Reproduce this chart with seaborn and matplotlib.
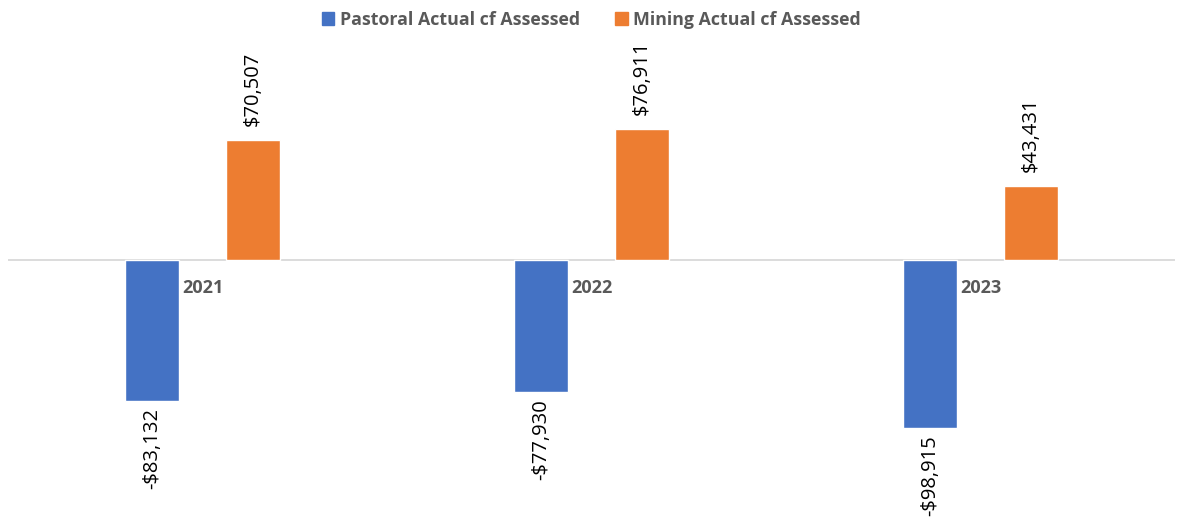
import pandas as pd
import numpy as np
import matplotlib.pyplot as plt
import seaborn as sns

# Chart data
years = ['2021', '2022', '2023']
pastoral = [-83132, -77930, -98915]
mining = [70507, 76911, 43431]
series_names = ['Pastoral Actual cf Assessed', 'Mining Actual cf Assessed']
colors = ['#4472C4', '#ED7D31']

df = pd.DataFrame({
    'year': years * 2,
    'value': pastoral + mining,
    'series': [series_names[0]] * 3 + [series_names[1]] * 3,
})

sns.set_style('white')
plt.rcParams['font.family'] = ['Open Sans', 'DejaVu Sans']

fig = plt.figure(figsize=(11.83, 5.24), dpi=100)
ax = fig.add_axes([8 / 1183, 0, 1167 / 1183, 1])

sns.barplot(data=df, x='year', y='value', hue='series', palette=colors,
            width=0.52, gap=0.46, ax=ax, legend=False, saturation=1)

ax.set_ylim(-155294, 152941)
ax.set_xlim(-0.5, 2.5)
ax.axhline(0, color='#D9D9D9', lw=1.3, zorder=0)
for s in ax.spines.values():
    s.set_visible(False)
ax.set_xticks([])
ax.set_yticks([])
ax.set_xlabel('')
ax.set_ylabel('')

# value labels
for cont in ax.containers:
    for bar in cont:
        v = bar.get_height()
        x = bar.get_x() + bar.get_width() / 2
        txt = f'-${abs(v):,.0f}' if v < 0 else f'${v:,.0f}'
        if v >= 0:
            ax.annotate(txt, (x, v), xytext=(0, 10), textcoords='offset points',
                        rotation=90, ha='center', va='bottom', fontsize=14.5, color='#000000')
        else:
            ax.annotate(txt, (x, v), xytext=(0, -5), textcoords='offset points',
                        rotation=90, ha='center', va='top', fontsize=14.5, color='#000000')

# category labels just below the axis
for i, y in enumerate(years):
    ax.annotate(y, (i, 0), xytext=(0, -20), textcoords='offset points',
                ha='center', va='center', fontsize=13, fontweight='bold', color='#595959')

# legend at the top
handles = [plt.Rectangle((0, 0), 1, 1, color=c) for c in colors]
fig.legend(handles, series_names, loc='upper center', bbox_to_anchor=(0.5, 1.01),
           ncol=2, frameon=False, handlelength=0.7, handleheight=0.7,
           handletextpad=0.3, columnspacing=2.0,
           prop={'weight': 'bold', 'size': 12.8})
for t in fig.legends[0].get_texts():
    t.set_color('#595959')

fig.savefig('out.png', dpi=100)
